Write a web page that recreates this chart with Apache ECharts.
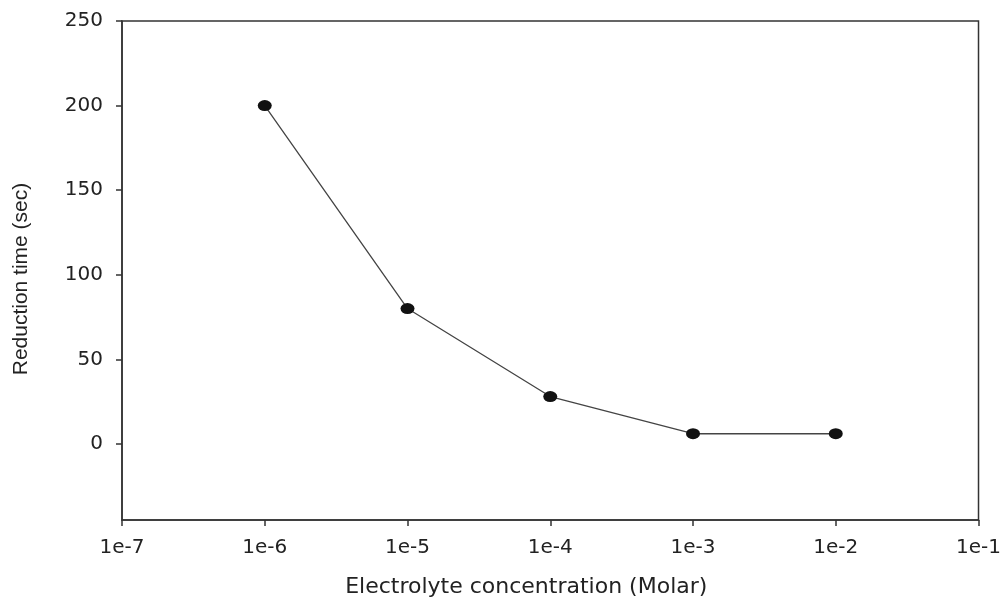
<!DOCTYPE html>
<html>
<head>
<meta charset="utf-8">
<script src="https://cdn.jsdelivr.net/npm/echarts@6/dist/echarts.min.js"></script>
<style>
html,body{margin:0;padding:0;background:#fff;}
#chart{width:1004px;height:603px;}
</style>
</head>
<body>
<div id="chart"></div>
<script>
var concentrations = [1e-6, 1e-5, 1e-4, 1e-3, 1e-2];
var reductionTime = [200, 80, 28, 6, 6];
var xTicks = [1e-7, 1e-6, 1e-5, 1e-4, 1e-3, 1e-2, 1e-1];
var yTicks = [0, 50, 100, 150, 200, 250];

var chart = echarts.init(document.getElementById('chart'), null, {renderer: 'canvas'});
var tickFont = '"DejaVu Sans", sans-serif';
chart.setOption({
  animation: false,
  backgroundColor: '#fff',
  grid: {left: 122, right: 22, top: 21, bottom: 83, show: true, borderColor: '#333', borderWidth: 1.5, containLabel: false},
  xAxis: {
    type: 'log', logBase: 10, min: 1e-7, max: 1e-1,
    name: 'Electrolyte concentration (Molar)', nameLocation: 'middle', nameGap: 56,
    nameTextStyle: {fontFamily: tickFont, fontSize: 22, color: '#222', padding: [0, 48, 0, 0]},
    axisLine: {show: true, onZero: false, lineStyle: {color: '#333', width: 1.5}},
    axisTick: {show: true, inside: false, length: 6, lineStyle: {color: '#333', width: 1.5},
      customValues: xTicks},
    axisLabel: {margin: 18, fontFamily: tickFont, fontSize: 20, color: '#222',
      customValues: xTicks,
      formatter: function (v) { return '1e' + Math.round(Math.log10(v)); }},
    splitLine: {show: false},
    minorTick: {show: false}
  },
  yAxis: {
    type: 'value', min: -45, max: 250,
    name: 'Reduction time (sec)', nameLocation: 'middle', nameGap: 90, nameRotate: 90,
    nameTextStyle: {fontFamily: '"Liberation Sans", Arial, sans-serif', fontSize: 21, color: '#222', padding: [0, 17, 0, 0]},
    axisLine: {show: true, onZero: false, lineStyle: {color: '#333', width: 1.5}},
    axisTick: {show: true, inside: false, length: 6, lineStyle: {color: '#333', width: 1.5},
      customValues: yTicks},
    axisLabel: {margin: 19, fontFamily: tickFont, fontSize: 20, color: '#222',
      customValues: yTicks},
    splitLine: {show: false}
  },
  series: [{
    type: 'line',
    data: concentrations.map(function (c, i) { return [c, reductionTime[i]]; }),
    symbol: 'circle', symbolSize: [14, 11],
    itemStyle: {color: '#111'},
    lineStyle: {color: '#444', width: 1.3},
    showSymbol: true
  }]
});
</script>
</body>
</html>
